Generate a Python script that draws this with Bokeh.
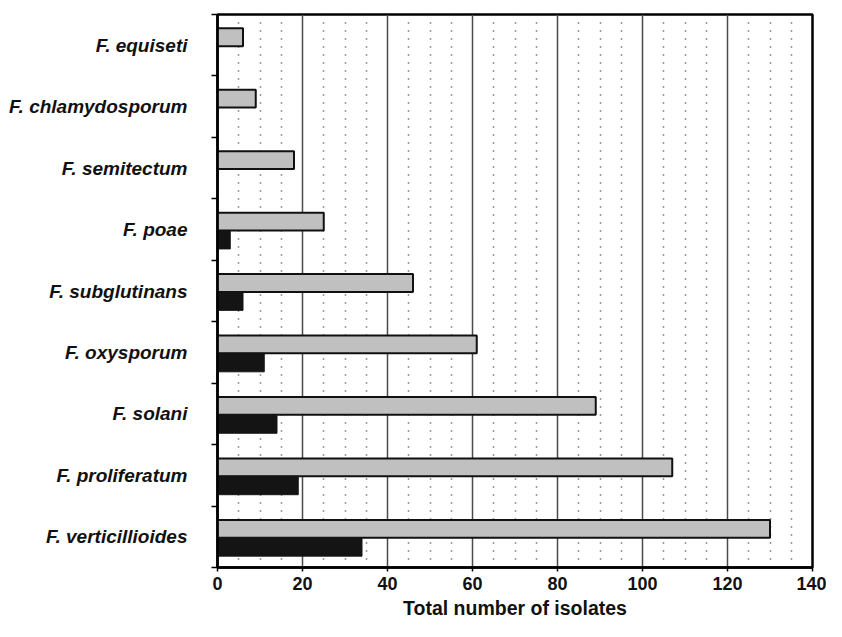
from bokeh.plotting import figure
from bokeh.models import ColumnDataSource, Range1d, FixedTicker
from bokeh.transform import dodge
from bokeh.embed import file_html
from bokeh.resources import INLINE

# ---- data (top to bottom) ----
species = ["F. equiseti", "F. chlamydosporum", "F. semitectum", "F. poae",
           "F. subglutinans", "F. oxysporum", "F. solani", "F. proliferatum",
           "F. verticillioides"]
grey_values = [6, 9, 18, 25, 46, 61, 89, 107, 130]
black_values = [0, 0, 0, 3, 6, 11, 14, 19, 34]
x_ticks = [0, 20, 40, 60, 80, 100, 120, 140]
x_minor = [v for v in range(0, 141, 5) if v % 20 != 0]

n = len(species)
ypos = [n - i - 0.5 for i in range(n)]
bounds = list(range(0, n + 1))

src = ColumnDataSource(dict(y=ypos, name=species, grey=grey_values, black=black_values))

FONT = "Liberation Sans"

p = figure(width=826, height=621, output_backend="svg", toolbar_location=None,
           x_range=Range1d(0, 140), y_range=Range1d(0, n),
           min_border_left=217, min_border_right=14, min_border_top=14, min_border_bottom=49)
p.background_fill_color = "white"
p.border_fill_color = "white"
p.outline_line_color = "black"
p.outline_line_width = 2.5

p.hbar(y=dodge("y", 0.13, range=p.y_range), left=0, right="grey", height=0.29, source=src,
       fill_color="#c0c0c0", line_color="#111111", line_width=2)
p.hbar(y=dodge("y", -0.165, range=p.y_range), left=0, right="black", height=0.3, source=src,
       fill_color="#141414", line_color="#141414", line_width=1)

# x axis
xt = FixedTicker(ticks=x_ticks, minor_ticks=x_minor)
p.xaxis.ticker = xt
p.xgrid.ticker = xt
p.xgrid.grid_line_color = "#4a4a4a"
p.xgrid.grid_line_width = 1.5
p.xgrid.minor_grid_line_color = "#333333"
p.xgrid.minor_grid_line_width = 1.5
p.xgrid.minor_grid_line_dash = "1 7"
p.ygrid.grid_line_color = None

p.xaxis.axis_label = "Total number of isolates"
p.xaxis.axis_label_text_font = FONT
p.xaxis.axis_label_text_font_style = "bold"
p.xaxis.axis_label_text_font_size = "19.5px"
p.xaxis.axis_label_text_color = "#111111"
p.xaxis.axis_label_standoff = 4
p.xaxis.major_label_text_font = FONT
p.xaxis.major_label_text_font_style = "bold"
p.xaxis.major_label_text_font_size = "18px"
p.xaxis.major_label_text_color = "#111111"
p.xaxis.major_label_standoff = 5
p.xaxis.axis_line_width = 2.5
p.xaxis.major_tick_line_width = 1.5
p.xaxis.major_tick_out = 4
p.xaxis.major_tick_in = 0
p.xaxis.minor_tick_line_color = None

# y axis: labels at centres, ticks at boundaries
yt = FixedTicker(ticks=ypos, minor_ticks=bounds)
p.yaxis.ticker = yt
p.yaxis.major_label_overrides = {y: s for y, s in zip(ypos, species)}
p.yaxis.major_label_text_font = FONT
p.yaxis.major_label_text_font_style = "bold italic"
p.yaxis.major_label_text_font_size = "19px"
p.yaxis.major_label_text_color = "#111111"
p.yaxis.major_label_standoff = 24
p.yaxis.major_tick_line_color = None
p.yaxis.major_tick_out = 5
p.yaxis.minor_tick_line_color = "black"
p.yaxis.minor_tick_line_width = 1.5
p.yaxis.minor_tick_out = 6
p.yaxis.minor_tick_in = 0
p.yaxis.axis_line_width = 2.5

open("out.html", "w").write(file_html(p, INLINE))
